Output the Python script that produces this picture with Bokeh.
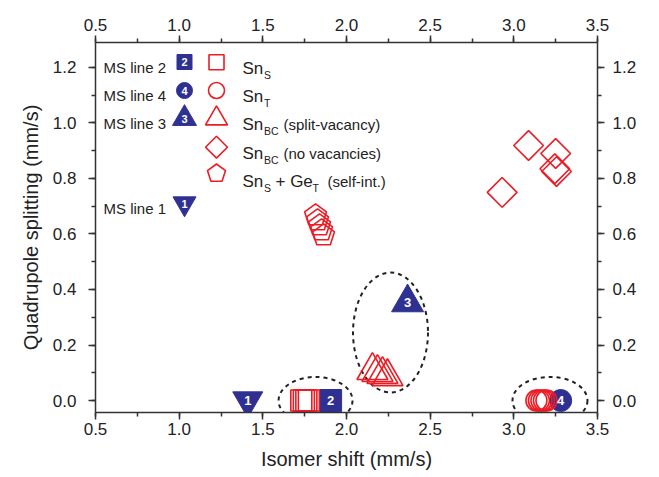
import numpy as np
from bokeh.plotting import figure
from bokeh.models import Range1d, SingleIntervalTicker, LinearAxis, PrintfTickFormatter, ColumnDataSource
from bokeh.core.properties import value
from bokeh.embed import file_html
from bokeh.resources import INLINE

# ---------------- data ----------------
ms_labels = ["1", "2", "3", "4"]
ms_x = [1.41, 1.905, 2.365, 3.28]
ms_y = [0.0, 0.0, 0.353, 0.0]
ms_marker = ["inverted_triangle", "square", "triangle", "circle"]

sn_s_x = [1.73, 1.745, 1.76, 1.775]
sn_s_y = [0.0, 0.0, 0.0, 0.0]
sn_t_x = [3.135, 3.15, 3.165, 3.18, 3.195]
sn_t_y = [0.0, 0.0, 0.0, 0.0, 0.0]
sn_bc_sv_x = [2.155, 2.185, 2.215, 2.245]
sn_bc_sv_y = [0.108, 0.101, 0.094, 0.086]
sn_bc_nv_x = [3.088, 3.25, 3.245, 3.255, 2.93]
sn_bc_nv_y = [0.919, 0.89, 0.835, 0.825, 0.75]
sn_ge_x = [1.815, 1.827, 1.839, 1.851, 1.863]
sn_ge_y = [0.667, 0.649, 0.631, 0.613, 0.595]

ell_x = [1.815, 2.263, 3.216]
ell_y = [0.0, 0.245, 0.0]
ell_w = [0.442, 0.448, 0.448]
ell_h = [0.17, 0.432, 0.17]

x_label = "Isomer shift (mm/s)"
y_label = "Quadrupole splitting (mm/s)"

# ---------------- style ----------------
FONT = "Liberation Sans"
BLUE = "#2e3192"
RED = "#ed1c24"
AX = "#333333"
TXT = "#222222"

X0, X1 = 0.5, 3.5
Y0, Y1 = -0.0432, 1.29
W, H = 659, 477
BL, BR, BT, BB = 95, 62, 42, 65
FW, FH = W - BL - BR, H - BT - BB
PXX = FW / (X1 - X0)
PXY = FH / (Y1 - Y0)

def px2x(px):   # page pixel -> data x
    return X0 + (px - BL) / PXX

def px2y(py):   # page pixel -> data y
    return Y1 - (py - BT) / PXY

p = figure(width=W, height=H, min_border_left=BL, min_border_right=BR,
           min_border_top=BT, min_border_bottom=BB,
           x_range=Range1d(X0, X1), y_range=Range1d(Y0, Y1),
           output_backend="svg", toolbar_location=None,
           background_fill_color="white", border_fill_color="white",
           outline_line_color=None)
p.xgrid.visible = False
p.ygrid.visible = False

bottom = p.below[0]
left = p.left[0]
top = LinearAxis()
right = LinearAxis()
p.add_layout(top, "above")
p.add_layout(right, "right")

def style(ax, interval, standoff):
    ax.ticker = SingleIntervalTicker(interval=interval, num_minor_ticks=2)
    ax.formatter = PrintfTickFormatter(format="%.1f")
    ax.axis_line_color = AX
    ax.axis_line_width = 1.5
    ax.major_tick_line_color = AX
    ax.major_tick_line_width = 1.5
    ax.minor_tick_line_color = AX
    ax.minor_tick_line_width = 1.5
    ax.major_tick_in = 0
    ax.major_tick_out = 7
    ax.minor_tick_in = 0
    ax.minor_tick_out = 4
    ax.major_label_text_font = FONT
    ax.major_label_text_font_size = "17px"
    ax.major_label_text_color = TXT
    ax.major_label_standoff = standoff
    ax.axis_label_text_font = FONT
    ax.axis_label_text_font_size = "20px"
    ax.axis_label_text_font_style = "normal"
    ax.axis_label_text_color = TXT

style(bottom, 0.5, 3)
style(top, 0.5, 5)
style(left, 0.2, 12)
style(right, 0.2, 8)
bottom.axis_label = x_label
bottom.axis_label_standoff = 10
left.axis_label = y_label
left.axis_label_standoff = 8

# ---------------- dashed ellipses ----------------
p.ellipse(x=ell_x, y=ell_y, width=ell_w, height=ell_h, fill_color=None,
          line_color=TXT, line_width=2, line_dash="4 4")

# ---------------- MS lines (blue, numbered) ----------------
ms_size = [30, 22, 32, 22]
src = ColumnDataSource(dict(x=ms_x, y=ms_y, m=ms_marker, s=ms_size, t=ms_labels))
p.scatter("x", "y", marker="m", size="s", source=src, fill_color=BLUE, line_color=BLUE)

# ---------------- calculated sites (red, open) ----------------
red = dict(fill_color=None, line_color=RED, line_width=1.6)
p.scatter(sn_s_x, sn_s_y, marker="square", size=21, **red)
p.scatter(sn_t_x, sn_t_y, marker="circle", size=21, **red)
p.scatter(sn_bc_sv_x, sn_bc_sv_y, marker="triangle", size=31, **red)
p.scatter(sn_bc_nv_x, sn_bc_nv_y, marker="square", angle=np.pi / 4, size=21, **red)

ang = np.deg2rad([0, 72, 144, 216, 288])

def pent(cx, cy, r):
    return ([cx + r * np.sin(a) / PXX for a in ang], [cy + r * np.cos(a) / PXY for a in ang])

pxs, pys = zip(*[pent(cx, cy, 11.5) for cx, cy in zip(sn_ge_x, sn_ge_y)])
p.patches(list(pxs), list(pys), **red)

p.text("x", "y", text="t", source=src, text_font=value(FONT), text_font_size="13px",
       text_font_style="bold", text_color="white", text_align="center", text_baseline="middle")

# ---------------- legend ----------------
def txt(xpx, ypx, s, size, color=TXT, bold=False, align="left", baseline="alphabetic"):
    p.text(x=[px2x(xpx)], y=[px2y(ypx)], text=[s], text_font=value(FONT),
           text_font_size=value(f"{size}px"), text_color=color, text_align=align,
           text_baseline=baseline, text_font_style="bold" if bold else "normal")

leg_ms_text = ["MS line 2", "MS line 4", "MS line 3", "MS line 1"]
leg_ms_rows = [61.5, 90, 118, 203]
leg_ms_mark = ["square", "circle", "triangle", "inverted_triangle"]
leg_ms_size = [15, 16, 24, 23]
leg_ms_num = ["2", "4", "3", "1"]
for t, ry, mk, sz, nm in zip(leg_ms_text, leg_ms_rows, leg_ms_mark, leg_ms_size, leg_ms_num):
    txt(103, ry + 5.4, t, 15)
    p.scatter([px2x(184)], [px2y(ry)], marker=mk, size=sz, fill_color=BLUE, line_color=BLUE)
    txt(184, ry, nm, 11, color="white", bold=True, align="center", baseline="middle")

leg_red_rows = [61.7, 90, 118, 146.7, 175]
leg_red_mark = ["square", "circle", "triangle", "diamond"]
leg_red_size = [15, 16, 22, 15.5]
for ry, mk, sz in zip(leg_red_rows[:4], leg_red_mark, leg_red_size):
    if mk == "diamond":
        p.scatter([px2x(216)], [px2y(ry)], marker="square", angle=np.pi / 4, size=sz, **red)
    else:
        p.scatter([px2x(216)], [px2y(ry)], marker=mk, size=sz, **red)
lx, ly = pent(px2x(216), px2y(leg_red_rows[4] - 2), 9.5)
p.patches([lx], [ly], **red)

# Sn labels with subscripts
b = [r + 6.1 for r in leg_red_rows]
txt(242, b[0], "Sn", 17); txt(263.5, b[0] + 6.5, "S", 10.5)
txt(242, b[1], "Sn", 17); txt(263.5, b[1] + 6.5, "T", 10.5)
txt(242, b[2], "Sn", 17); txt(263.5, b[2] + 6.5, "BC", 10.5); txt(283, b[2], "(split-vacancy)", 15)
txt(242, b[3], "Sn", 17); txt(263.5, b[3] + 6.5, "BC", 10.5); txt(283, b[3], "(no vacancies)", 15)
txt(242, b[4], "Sn", 17); txt(263.5, b[4] + 6.5, "S", 10.5); txt(275, b[4], "+ Ge", 17)
txt(312, b[4] + 6.5, "T", 10.5); txt(327, b[4], "(self-int.)", 15)

open("out.html", "w").write(file_html(p, INLINE))
